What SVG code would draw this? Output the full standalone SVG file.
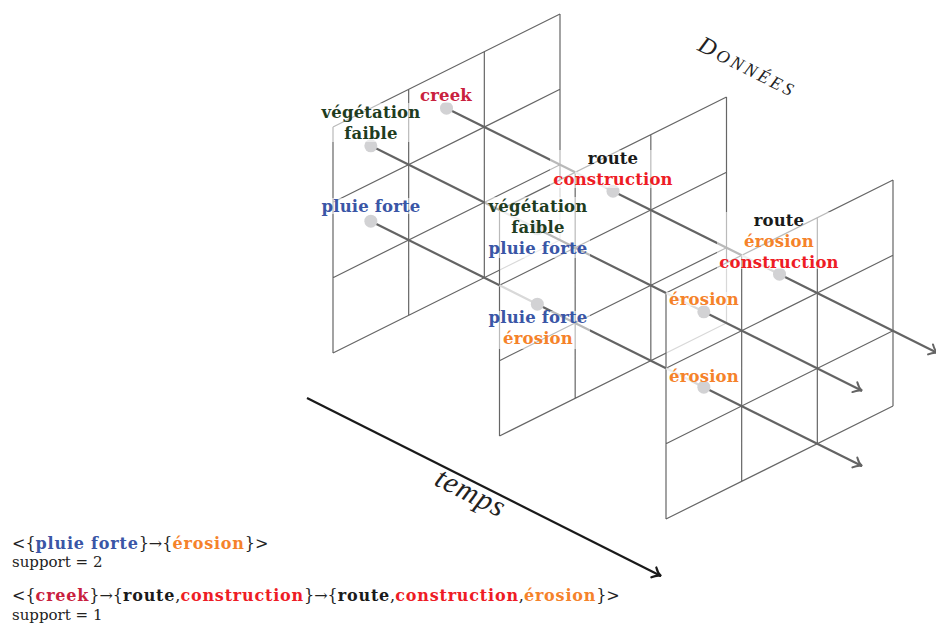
<svg xmlns="http://www.w3.org/2000/svg" width="936" height="623" viewBox="0 0 936 623">
<style>
.pf{fill:#fff;fill-opacity:0.75;stroke:none}
.grid{fill:none;stroke:#666;stroke-width:1.2}
.tr{fill:none;stroke:#646464;stroke-width:2.2}
.trl{fill:none;stroke:#d9d9d9;stroke-width:2.2}
.dot{fill:#d2d2d4}
.bg{fill:#fff;fill-opacity:0.55}
.lb{font-family:"DejaVu Serif","Liberation Serif",serif;font-weight:bold;font-size:16.5px;letter-spacing:0.15px;text-anchor:middle}
.tx{font-family:"DejaVu Serif","Liberation Serif",serif;font-size:16px;fill:#222}
.sp{font-family:"DejaVu Serif","Liberation Serif",serif;font-size:15px;fill:#222}
.b{font-weight:bold;letter-spacing:0.8px}
.g{fill:#1f3d1f}.c{fill:#c9213e}.bl{fill:#3a56a6}.r{fill:#ee1c25}.o{fill:#f5822a}.k{fill:#1a1a1a}
</style>
<defs>
<marker id="ag" viewBox="-12 -7 14 14" refX="0" refY="0" markerWidth="14" markerHeight="14" markerUnits="userSpaceOnUse" orient="auto">
<path d="M-8,-5.5 C-5,-2 -2,-0.5 0,0 C-2,0.5 -5,2 -8,5.5" fill="none" stroke="#646464" stroke-width="2" stroke-linecap="round"/>
</marker>
<marker id="ak" viewBox="-12 -7 14 14" refX="0" refY="0" markerWidth="14" markerHeight="14" markerUnits="userSpaceOnUse" orient="auto">
<path d="M-8,-5.5 C-5,-2 -2,-0.5 0,0 C-2,0.5 -5,2 -8,5.5" fill="none" stroke="#1a1a1a" stroke-width="2.2" stroke-linecap="round"/>
</marker>
<g id="panelshape">
<path class="pf" d="M0,0 L227,-113 L227,113 L0,226 Z"/>
<path class="grid" d="M0,0V226 M75.67,-37.67V188.33 M151.33,-75.33V150.67 M227,-113V113 M0,0L227,-113 M0,75.33L227,-37.67 M0,150.67L227,37.67 M0,226L227,113"/>
</g>
</defs>

<g id="panel-1" transform="translate(333,127)"><use href="#panelshape"/></g>
<g id="panel-2" transform="translate(499.5,210)"><use href="#panelshape"/></g>
<g id="panel-3" transform="translate(666,293)"><use href="#panelshape"/></g>

<g id="connectors">
<path class="tr" d="M446.5,108.17 L575.2,172.3"/>
<path class="trl" d="M575.2,172.3 L613,191.17"/>
<path class="tr" d="M613,191.17 L741.7,255.3"/>
<path class="trl" d="M741.7,255.3 L779.5,274.17"/>
<path class="tr" d="M779.5,274.17 L937.7,353" marker-end="url(#ag)"/>
<path class="tr" d="M370.83,145.83 L499.5,210"/>
<path class="trl" d="M499.5,210 L537.33,228.83"/>
<path class="tr" d="M537.33,228.83 L666,293"/>
<path class="trl" d="M666,293 L703.83,311.83"/>
<path class="tr" d="M703.83,311.83 L862,390.7" marker-end="url(#ag)"/>
<path class="tr" d="M370.83,221.17 L499.5,285.3"/>
<path class="trl" d="M499.5,285.3 L537.33,304.17"/>
<path class="tr" d="M537.33,304.17 L666,368.3"/>
<path class="trl" d="M666,368.3 L703.83,387.17"/>
<path class="tr" d="M703.83,387.17 L862,466" marker-end="url(#ag)"/>
<path d="M307,398 L661,576" fill="none" stroke="#1a1a1a" stroke-width="2.2" marker-end="url(#ak)"/>
</g>

<g id="dots">
<circle class="dot" cx="446.5" cy="108.17" r="6.5"/>
<circle class="dot" cx="370.83" cy="145.83" r="6.5"/>
<circle class="dot" cx="370.83" cy="221.17" r="6.5"/>
<circle class="dot" cx="613" cy="191.17" r="6.5"/>
<circle class="dot" cx="537.33" cy="228.83" r="6.5"/>
<circle class="dot" cx="537.33" cy="304.17" r="6.5"/>
<circle class="dot" cx="779.5" cy="274.17" r="6.5"/>
<circle class="dot" cx="703.83" cy="311.83" r="6.5"/>
<circle class="dot" cx="703.83" cy="387.17" r="6.5"/>
</g>

<g id="label-p1-veg">
<rect class="bg" x="318" y="103" width="106" height="39"/>
<text class="lb g" x="371" y="118">végétation</text>
<text class="lb g" x="371" y="139">faible</text>
</g>
<g id="label-p1-creek">
<rect class="bg" x="419" y="87" width="55" height="16"/>
<text class="lb c" x="446" y="101">creek</text>
</g>
<g id="label-p1-pluie">
<rect class="bg" x="318" y="198" width="106" height="16"/>
<text class="lb bl" x="371" y="212">pluie forte</text>
</g>
<g id="label-p2-route">
<rect class="bg" x="550" y="150" width="126" height="38"/>
<text class="lb k" x="613" y="164">route</text>
<text class="lb r" x="613" y="185">construction</text>
</g>
<g id="label-p2-veg">
<rect class="bg" x="485" y="197" width="105" height="61"/>
<text class="lb g" x="538" y="212">végétation</text>
<text class="lb g" x="538" y="233">faible</text>
<text class="lb bl" x="538" y="254">pluie forte</text>
</g>
<g id="label-p2-pluie">
<rect class="bg" x="485" y="311" width="105" height="38"/>
<text class="lb bl" x="538" y="323">pluie forte</text>
<text class="lb o" x="538" y="344">érosion</text>
</g>
<g id="label-p3-route">
<rect class="bg" x="717" y="212" width="126" height="57"/>
<text class="lb k" x="779" y="226">route</text>
<text class="lb o" x="779" y="247">érosion</text>
<text class="lb r" x="779" y="268">construction</text>
</g>
<g id="label-p3-erosion1">
<rect class="bg" x="667" y="292" width="74" height="14"/>
<text class="lb o" x="704" y="305">érosion</text>
</g>
<g id="label-p3-erosion2">
<rect class="bg" x="667" y="369" width="74" height="13"/>
<text class="lb o" x="704" y="382">érosion</text>
</g>

<g id="title-donnees">
<text x="743" y="73" transform="rotate(26.57 743 73)" font-family="Liberation Serif, serif" font-style="italic" text-anchor="middle" fill="#222" textLength="104" lengthAdjust="spacing"><tspan font-size="24">D</tspan><tspan font-size="18">ONNÉES</tspan></text>
</g>
<g id="label-temps">
<text x="466" y="501" transform="rotate(26.57 466 501)" font-family="Liberation Serif, serif" font-style="italic" font-size="30" text-anchor="middle" fill="#222" textLength="74" lengthAdjust="spacing">temps</text>
</g>

<g id="legend">
<text class="tx" x="12" y="549">&lt;{<tspan class="b bl">pluie forte</tspan>}→{<tspan class="b o">érosion</tspan>}&gt;</text>
<text class="sp" x="12" y="567">support = 2</text>
<text class="tx" x="12" y="601">&lt;{<tspan class="b c">creek</tspan>}→{<tspan class="b k">route</tspan>,<tspan class="b r">construction</tspan>}→{<tspan class="b k">route</tspan>,<tspan class="b r">construction</tspan>,<tspan class="b o">érosion</tspan>}&gt;</text>
<text class="sp" x="12" y="620">support = 1</text>
</g>
</svg>
